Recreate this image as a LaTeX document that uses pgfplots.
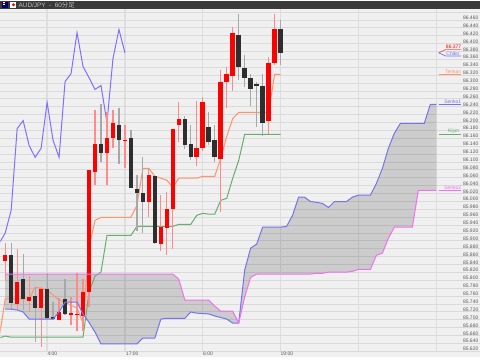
\documentclass[border=0pt]{standalone}
\usepackage{fontspec}
\setmainfont{Liberation Sans}
\newfontfamily\cjk{Noto Sans CJK JP}
\usepackage{pgfplots}
\pgfplotsset{compat=1.18}
\usepgfplotslibrary{fillbetween}
\definecolor{bgc}{HTML}{F0F0F0}
\definecolor{gridc}{HTML}{DADADA}
\definecolor{vgridc}{HTML}{DEDEDE}
\definecolor{barc}{HTML}{3A3A3A}
\definecolor{redw}{HTML}{FF8A8A}
\definecolor{darkw}{HTML}{A8A8A8}
\definecolor{darkb}{HTML}{2E2E2E}
\definecolor{chik}{HTML}{8070FF}
\definecolor{tenk}{HTML}{FF9468}
\definecolor{kij}{HTML}{66AE70}
\definecolor{sen1}{HTML}{7474F0}
\definecolor{sen2}{HTML}{F070F0}
\definecolor{lab}{HTML}{5A5A5A}
\begin{document}
\begin{tikzpicture}
\begin{axis}[
  at={(0,0)}, anchor=south west,
  scale only axis, width=480pt, height=357pt,
  xmin=-0.783, xmax=79.217, ymin=85.606, ymax=86.509,
  axis background/.style={fill=bgc},
  axis line style={draw=none},
  major tick length=0pt,
  unbounded coords=jump,
  xtick={7,20,33,46,59,72},
  xticklabels={{},{},{},{},{},{}},
  xmajorgrids, ymajorgrids,
  x grid style={vgridc,line width=1.4pt},
  y grid style={gridc,line width=1pt},
  ytick={85.62,85.64,85.66,85.68,85.70,85.72,85.74,85.76,85.78,85.80,85.82,85.84,85.86,85.88,85.90,85.92,85.94,85.96,85.98,86.00,86.02,86.04,86.06,86.08,86.10,86.12,86.14,86.16,86.18,86.20,86.22,86.24,86.26,86.28,86.30,86.32,86.34,86.36,86.38,86.40,86.42,86.44,86.46},
  extra y ticks={86.48}, extra y tick labels={},
  yticklabel pos=right,
  yticklabel style={anchor=east,xshift=-1pt,yshift=2.3pt,font=\fontsize{5}{6}\selectfont,text=lab,inner sep=0pt,
     /pgf/number format/.cd,fixed,fixed zerofill,precision=3,1000 sep={},assume math mode=true},
  clip=true,
]
\fill[bgc] (rel axis cs:0,0) rectangle (rel axis cs:1,0.014);
% Tenkan
\addplot[tenk,line width=1pt] coordinates {(-1,85.654)(0,85.753)(1,85.753)(2,85.753)(3,85.753)(4,85.753)(5,85.783)(6,85.780)(7,85.775)(8,85.763)(9,85.750)(10,85.745)(11,85.737)(12,85.730)(13,85.692)(14,85.884)(15,85.952)(16,85.960)(17,85.960)(18,85.960)(19,85.960)(20,85.960)(21,85.960)(22,85.990)(23,86.084)(24,86.084)(25,86.064)(26,86.059)(27,86.054)(28,86.036)(29,86.059)(30,86.059)(31,86.059)(32,86.059)(33,86.064)(34,86.064)(35,86.064)(36,86.109)(37,86.165)(38,86.210)(39,86.226)(40,86.226)(41,86.226)(42,86.226)(43,86.226)(44,86.226)(45,86.322)(46,86.322)};
% Kijun
\addplot[kij,line width=1pt] coordinates {(-1,85.654)(0,85.659)(1,85.656)(13,85.656)(14,85.770)(15,85.811)(16,85.821)(17,85.914)(21,85.914)(22,85.937)(28,85.937)(29,85.942)(31,85.942)(32,85.965)(33,85.970)(34,85.968)(35,85.968)(36,86.003)(37,86.008)(38,86.059)(39,86.104)(40,86.170)(46,86.170)};
% Chikou
\addplot[chik,line width=1pt] coordinates {(-1,85.894)(0,85.920)(1,85.978)(2,86.185)(3,86.205)(4,86.142)(5,86.112)(6,86.135)(7,86.251)(8,86.155)(9,86.112)(10,86.304)(11,86.324)(12,86.428)(13,86.342)(14,86.314)(15,86.284)(16,86.294)(17,86.200)(18,86.362)(19,86.436)(20,86.377)};
% wicks, up candles
\addplot[redw,line width=1.2pt] coordinates {
(0,85.894)(0,85.801)(0,nan)(2,85.879)(2,85.725)(2,nan)(4,85.811)(4,85.720)(4,nan)(6,85.783)(6,85.631)(6,nan)(9,85.755)(9,85.699)(9,nan)(11,85.758)(11,85.687)(11,nan)(12,85.818)(12,85.672)(12,nan)(13,85.803)(13,85.672)(13,nan)(14,86.081)(14,85.732)(14,nan)(15,86.233)(15,86.041)(15,nan)(17,86.226)(17,86.043)(17,nan)(18,86.231)(18,86.135)(18,nan)(20,86.193)(20,86.086)(20,nan)(24,86.084)(24,85.960)(24,nan)(26,86.016)(26,85.874)(26,nan)(27,86.023)(27,85.864)(27,nan)(28,86.185)(28,85.879)(28,nan)(29,86.251)(29,86.150)(29,nan)(32,86.256)(32,86.089)(32,nan)(33,86.264)(33,86.127)(33,nan)(36,86.334)(36,85.973)(36,nan)(37,86.342)(37,86.238)(37,nan)(38,86.443)(38,86.281)(38,nan)(44,86.367)(44,86.170)(44,nan)(45,86.476)(45,86.345)};
% wicks, down candles
\addplot[darkw,line width=1.2pt] coordinates {
(1,85.894)(1,85.725)(1,nan)(3,85.866)(3,85.725)(3,nan)(5,85.783)(5,85.644)(5,nan)(7,85.818)(7,85.702)(7,nan)(8,85.745)(8,85.699)(8,nan)(10,85.803)(10,85.712)(10,nan)(16,86.248)(16,86.099)(16,nan)(19,86.238)(19,86.094)(19,nan)(21,86.180)(21,86.033)(21,nan)(22,86.066)(22,85.925)(22,nan)(23,86.112)(23,85.920)(23,nan)(25,86.066)(25,85.892)(25,nan)(30,86.216)(30,86.132)(30,nan)(31,86.193)(31,86.104)(31,nan)(34,86.226)(34,86.142)(34,nan)(35,86.193)(35,86.099)(35,nan)(39,86.476)(39,86.309)(39,nan)(40,86.372)(40,86.289)(40,nan)(41,86.324)(41,86.243)(41,nan)(42,86.302)(42,86.188)(42,nan)(43,86.322)(43,86.165)(43,nan)(46,86.461)(46,86.347)};
% bodies, up candles
\addplot[red,line width=4.6pt] coordinates {
(0,85.864)(0,85.849)(0,nan)(2,85.796)(2,85.740)(2,nan)(4,85.758)(4,85.747)(4,nan)(6,85.778)(6,85.730)(6,nan)(9,85.720)(9,85.699)(9,nan)(11,85.717)(11,85.712)(11,nan)(12,85.715)(12,85.712)(12,nan)(13,85.770)(13,85.710)(13,nan)(14,86.079)(14,85.770)(14,nan)(15,86.145)(15,86.076)(15,nan)(17,86.160)(17,86.124)(17,nan)(18,86.200)(18,86.160)(18,nan)(20,86.157)(20,86.155)(20,nan)(24,86.066)(24,86.000)(24,nan)(26,85.935)(26,85.892)(26,nan)(27,85.980)(27,85.932)(27,nan)(28,86.185)(28,85.980)(28,nan)(29,86.208)(29,86.193)(29,nan)(32,86.135)(32,86.112)(32,nan)(33,86.253)(33,86.135)(33,nan)(36,86.304)(36,86.109)(36,nan)(37,86.322)(37,86.304)(37,nan)(38,86.428)(38,86.319)(38,nan)(44,86.352)(44,86.203)(44,nan)(45,86.436)(45,86.350)};
% bodies, down candles
\addplot[darkb,line width=4.6pt] coordinates {
(1,85.864)(1,85.742)(1,nan)(3,85.803)(3,85.753)(3,nan)(5,85.760)(5,85.730)(5,nan)(7,85.778)(7,85.704)(7,nan)(8,85.707)(8,85.702)(8,nan)(10,85.753)(10,85.715)(10,nan)(16,86.147)(16,86.124)(16,nan)(19,86.195)(19,86.155)(19,nan)(21,86.160)(21,86.033)(21,nan)(22,86.031)(22,86.021)(22,nan)(23,86.021)(23,86.000)(23,nan)(25,86.064)(25,85.894)(25,nan)(30,86.208)(30,86.142)(30,nan)(31,86.145)(31,86.112)(31,nan)(34,86.188)(34,86.152)(34,nan)(35,86.155)(35,86.112)(35,nan)(39,86.423)(39,86.342)(39,nan)(40,86.339)(40,86.312)(40,nan)(41,86.312)(41,86.284)(41,nan)(42,86.299)(42,86.294)(42,nan)(43,86.294)(43,86.200)(43,nan)(46,86.436)(46,86.377)};
% Senkou span A
\addplot[name path=sa,sen1,line width=1pt] coordinates {(0,85.727)(1,85.727)(2,85.725)(3,85.720)(4,85.702)(8,85.702)(9,85.720)(10,85.745)(12,85.745)(13,85.715)(14,85.694)(15,85.669)(16,85.639)(22,85.639)(23,85.654)(25,85.654)(26,85.702)(27,85.704)(30,85.704)(31,85.720)(32,85.717)(33,85.716)(34,85.715)(35,85.710)(36,85.706)(37,85.702)(38,85.692)(39,85.692)(40,85.826)(41,85.882)(42,85.892)(43,85.935)(46,85.935)(47,85.937)(48,85.965)(49,86.011)(50,86.011)(51,86.000)(52,85.998)(53,85.995)(54,85.985)(55,86.000)(57,86.000)(58,86.011)(59,86.016)(61,86.016)(62,86.046)(63,86.084)(64,86.135)(65,86.173)(66,86.198)(70,86.198)(71,86.246)(72,86.246)};
% Senkou span B
\addplot[name path=sb,sen2,line width=1pt] coordinates {(0,85.816)(28,85.816)(29,85.803)(30,85.750)(34,85.750)(35,85.735)(36,85.722)(38,85.722)(39,85.692)(40,85.758)(41,85.808)(42,85.816)(51,85.816)(52,85.818)(53,85.818)(54,85.821)(57,85.821)(58,85.823)(59,85.828)(61,85.828)(62,85.864)(63,85.869)(64,85.907)(65,85.935)(68,85.935)(69,86.028)(72,86.028)};
\addplot[black,fill opacity=0.15,draw=none] fill between[of=sa and sb];
% right-hand tags
\addplot[red!70!white,line width=0.7pt] coordinates {(72.4,86.377)(73.55,86.385)(76.2,86.385)};
\addplot[sen1,line width=0.7pt] coordinates {(72.4,86.377)(73.55,86.369)(76.2,86.369)};
\addplot[tenk,line width=0.8pt] coordinates {(72.4,86.322)(76.2,86.322)};
\addplot[sen1,line width=0.8pt] coordinates {(72.4,86.246)(76.2,86.246)};
\addplot[kij,line width=0.8pt] coordinates {(72.4,86.170)(76.2,86.170)};
\addplot[sen2,line width=0.8pt] coordinates {(72.4,86.028)(76.2,86.028)};
\tikzset{tag/.style={anchor=south east,inner sep=0pt,yshift=0.4pt,font=\fontsize{5}{6}\selectfont}}
\node[tag,text=red] at (axis cs:76.2,86.385) {86.377};
\node[tag,text=sen1,xshift=-2pt] at (axis cs:76.2,86.369) {Chiko};
\node[tag,text=tenk] at (axis cs:76.2,86.322) {Tenkan};
\node[tag,text=sen1] at (axis cs:76.2,86.246) {Senko1};
\node[tag,text=kij,xshift=-2pt] at (axis cs:76.2,86.170) {Kijun};
\node[tag,text=sen2] at (axis cs:76.2,86.028) {Senko2};
\end{axis}
% title bar and time labels (picture units: 1pt = 1 reference pixel)
\begin{scope}[x=1pt,y=1pt]
\fill[barc] (0,349) rectangle (480,357);
\fill[blue!45!black] (2,350) rectangle (8,356);
\fill[white] (2.3,353) rectangle (5,355.7);
\fill[red!80!black] (3,353.8) rectangle (4.4,354.8);
\fill[white] (10,350) rectangle (16,356);
\fill[red] (13,353) circle (1.6);
\node[anchor=west,inner sep=0pt,text=black!25,font=\fontsize{6.4}{7}\selectfont] at (18,353) {AUD/JPY\ \ -\ \ 60{\cjk 分足}};
\foreach \xx/\tt in {52/4:00,132/17:00,208/6:00,287/19:00}
  \node[inner sep=0pt,text=lab,font=\fontsize{5}{6}\selectfont] at (\xx,2.8) {\tt};
\end{scope}
\end{tikzpicture}
\end{document}
